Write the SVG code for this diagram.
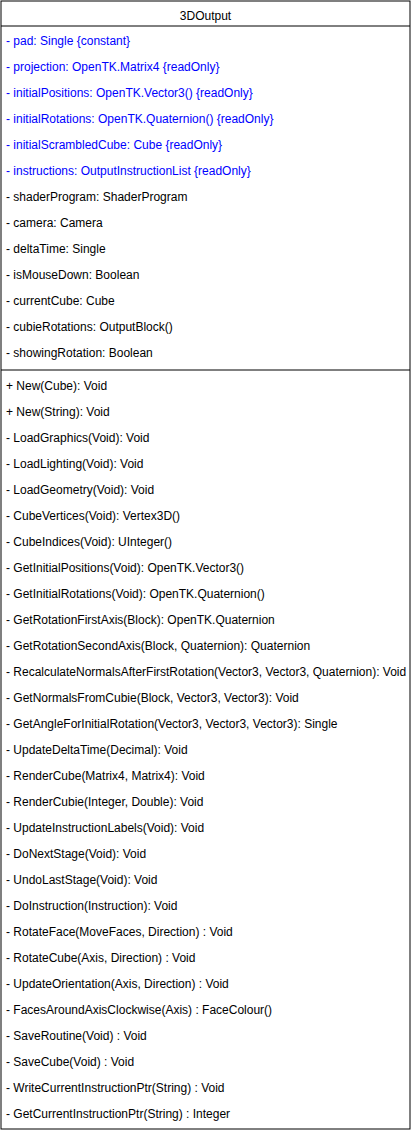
<svg xmlns="http://www.w3.org/2000/svg" width="411" height="1130" viewBox="0 0 411 1130">
<style>
text{font-family:"Liberation Sans",Arial,sans-serif;font-size:12px;fill:#000}
.b{fill:#0000ff}
.t{text-anchor:middle}
.ln{stroke:#000;stroke-width:1;fill:none}
</style>
<rect x="0" y="0" width="411" height="1130" fill="#fff"/>
<g id="class-3DOutput">
<rect class="ln" x="1" y="1" width="409" height="1128" fill="#fff"/>
<line class="ln" x1="1" y1="26" x2="410" y2="26"/>
<line class="ln" x1="1" y1="370" x2="410" y2="370"/>
<text class="t" x="205.5" y="20">3DOutput</text>
<text class="b" x="6" y="45">- pad: Single {constant}</text>
<text class="b" x="6" y="71">- projection: OpenTK.Matrix4 {readOnly}</text>
<text class="b" x="6" y="97">- initialPositions: OpenTK.Vector3() {readOnly}</text>
<text class="b" x="6" y="123">- initialRotations: OpenTK.Quaternion() {readOnly}</text>
<text class="b" x="6" y="149">- initialScrambledCube: Cube {readOnly}</text>
<text class="b" x="6" y="175">- instructions: OutputInstructionList {readOnly}</text>
<text x="6" y="201">- shaderProgram: ShaderProgram</text>
<text x="6" y="227">- camera: Camera</text>
<text x="6" y="253">- deltaTime: Single</text>
<text x="6" y="279">- isMouseDown: Boolean</text>
<text x="6" y="305">- currentCube: Cube</text>
<text x="6" y="331">- cubieRotations: OutputBlock()</text>
<text x="6" y="357">- showingRotation: Boolean</text>
<text x="6" y="390">+ New(Cube): Void</text>
<text x="6" y="416">+ New(String): Void</text>
<text x="6" y="442">- LoadGraphics(Void): Void</text>
<text x="6" y="468">- LoadLighting(Void): Void</text>
<text x="6" y="494">- LoadGeometry(Void): Void</text>
<text x="6" y="520">- CubeVertices(Void): Vertex3D()</text>
<text x="6" y="546">- CubeIndices(Void): UInteger()</text>
<text x="6" y="572">- GetInitialPositions(Void): OpenTK.Vector3()</text>
<text x="6" y="598">- GetInitialRotations(Void): OpenTK.Quaternion()</text>
<text x="6" y="624">- GetRotationFirstAxis(Block): OpenTK.Quaternion</text>
<text x="6" y="650">- GetRotationSecondAxis(Block, Quaternion): Quaternion</text>
<text x="6" y="676">- RecalculateNormalsAfterFirstRotation(Vector3, Vector3, Quaternion): Void</text>
<text x="6" y="702">- GetNormalsFromCubie(Block, Vector3, Vector3): Void</text>
<text x="6" y="728">- GetAngleForInitialRotation(Vector3, Vector3, Vector3): Single</text>
<text x="6" y="754">- UpdateDeltaTime(Decimal): Void</text>
<text x="6" y="780">- RenderCube(Matrix4, Matrix4): Void</text>
<text x="6" y="806">- RenderCubie(Integer, Double): Void</text>
<text x="6" y="832">- UpdateInstructionLabels(Void): Void</text>
<text x="6" y="858">- DoNextStage(Void): Void</text>
<text x="6" y="884">- UndoLastStage(Void): Void</text>
<text x="6" y="910">- DoInstruction(Instruction): Void</text>
<text x="6" y="936">- RotateFace(MoveFaces, Direction) : Void</text>
<text x="6" y="962">- RotateCube(Axis, Direction) : Void</text>
<text x="6" y="988">- UpdateOrientation(Axis, Direction) : Void</text>
<text x="6" y="1014">- FacesAroundAxisClockwise(Axis) : FaceColour()</text>
<text x="6" y="1040">- SaveRoutine(Void) : Void</text>
<text x="6" y="1066">- SaveCube(Void) : Void</text>
<text x="6" y="1092">- WriteCurrentInstructionPtr(String) : Void</text>
<text x="6" y="1118">- GetCurrentInstructionPtr(String) : Integer</text>
</g>
<g id="connectors"/>
</svg>
